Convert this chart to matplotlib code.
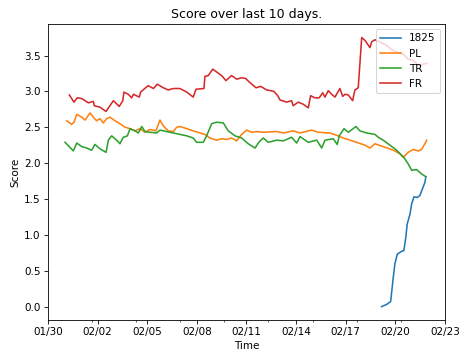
#!/usr/bin/env python
# coding: utf-8

import numpy as np
import matplotlib
matplotlib.use("Agg")
from matplotlib import pyplot as plt
import matplotlib.dates as mdates
from matplotlib.ticker import FixedLocator


# start of the time axis, offsets below are in days from here
t0 = np.datetime64("2019-01-30T00:00")

# 1825
d_1825 = [20.17, 20.48, 20.72, 20.88, 20.98, 21.12, 21.38, 21.52, 21.64, 21.72,
          21.89, 21.99, 22.13, 22.33, 22.49, 22.59, 22.79, 22.85]
v_1825 = [0.0, 0.03, 0.07, 0.41, 0.60, 0.73, 0.77, 0.78, 0.97, 1.15,
          1.29, 1.43, 1.53, 1.52, 1.55, 1.61, 1.73, 1.81]

# PL
d_pl = [1.13, 1.43, 1.57, 1.74, 2.04, 2.24, 2.54, 2.74, 2.94, 3.14, 3.34, 3.55,
        3.75, 4.05, 4.35, 4.66, 4.96, 5.26, 5.56, 5.86, 6.17, 6.53, 6.77, 6.97,
        7.27, 7.58, 7.78, 7.98, 8.39, 8.78, 9.19, 9.49, 9.79, 10.2, 10.5, 10.8,
        11.1, 11.41, 11.71, 12.01, 12.32, 12.62, 13.02, 13.83, 14.23, 14.83,
        15.24, 15.94, 16.34, 17.05, 17.55, 17.85, 18.26, 18.66, 19.17, 19.47,
        19.77, 20.27, 20.88, 21.28, 21.48, 21.78, 22.09, 22.39, 22.59, 22.79, 22.9]
v_pl = [2.59, 2.54, 2.57, 2.68, 2.64, 2.60, 2.70, 2.64, 2.59, 2.62, 2.56, 2.62,
        2.64, 2.59, 2.55, 2.50, 2.48, 2.45, 2.48, 2.43, 2.47, 2.45, 2.60, 2.52,
        2.45, 2.44, 2.50, 2.51, 2.48, 2.45, 2.42, 2.40, 2.35, 2.32, 2.34, 2.33,
        2.35, 2.31, 2.40, 2.46, 2.43, 2.44, 2.43, 2.44, 2.42, 2.45,
        2.42, 2.46, 2.43, 2.42, 2.38, 2.35, 2.32, 2.29, 2.25, 2.21,
        2.27, 2.23, 2.18, 2.13, 2.08, 2.15, 2.19, 2.17, 2.19, 2.27, 2.32]

# TR
d_tr = [1.03, 1.53, 1.74, 2.04, 2.34, 2.64, 2.84, 3.14, 3.51, 3.65, 3.85, 4.15,
        4.35, 4.55, 4.8, 4.96, 5.26, 5.46, 5.67, 5.86, 6.17, 6.57, 6.77, 7.18,
        7.58, 7.98, 8.39, 8.78, 8.99, 9.39, 9.59, 9.9, 10.2, 10.6, 10.9, 11.31,
        11.71, 12.11, 12.52, 12.78, 13.02, 13.32, 13.83, 14.23, 14.73, 15.04,
        15.24, 15.74, 16.25, 16.55, 16.75, 17.25, 17.49, 17.61, 17.9, 18.16,
        18.62, 18.86, 19.27, 19.77, 19.97, 20.27, 20.68, 21.08, 21.52, 21.78,
        21.99, 22.29, 22.59, 22.85]
v_tr = [2.29, 2.17, 2.28, 2.23, 2.21, 2.18, 2.26, 2.20, 2.15, 2.32, 2.38, 2.32,
        2.27, 2.36, 2.38, 2.48, 2.45, 2.42, 2.51, 2.44, 2.43, 2.42, 2.46, 2.44,
        2.42, 2.40, 2.38, 2.35, 2.29, 2.29, 2.38, 2.55, 2.57, 2.56, 2.45, 2.38,
        2.35, 2.27, 2.21, 2.30, 2.35, 2.29, 2.32, 2.31, 2.36, 2.28,
        2.37, 2.29, 2.32, 2.21, 2.32, 2.34, 2.26, 2.38, 2.48, 2.43,
        2.51, 2.45, 2.42, 2.40, 2.36, 2.32, 2.25, 2.18, 2.08, 1.99,
        1.90, 1.91, 1.85, 1.81]

# FR
d_fr = [1.29, 1.57, 1.77, 2.04, 2.44, 2.74, 2.80, 3.14, 3.51, 3.95, 4.31, 4.52,
        4.59, 4.85, 5.06, 5.16, 5.52, 5.60, 5.80, 6.06, 6.37, 6.61, 6.97, 7.27,
        7.58, 7.98, 8.39, 8.78, 8.95, 9.43, 9.49, 9.69, 9.84, 9.96, 10.2, 10.5,
        10.76, 11.1, 11.41, 11.71, 11.95, 12.17, 12.58, 12.86, 13.22, 13.46,
        13.66, 13.89, 14.03, 14.43, 14.73, 14.83, 15.13, 15.44, 15.74, 15.88,
        16.14, 16.4, 16.61, 16.75, 16.95, 17.15, 17.35, 17.65, 17.82, 17.96,
        18.16, 18.42, 18.56, 18.76, 18.97, 19.17, 19.47, 19.57, 19.77, 20.07,
        20.48, 20.78, 21.08, 21.48, 21.78, 22.09, 22.39, 22.69, 22.9]
v_fr = [2.95, 2.85, 2.91, 2.90, 2.84, 2.86, 2.80, 2.78, 2.72, 2.87, 2.79, 2.87,
        2.99, 2.96, 2.91, 2.96, 2.92, 2.99, 3.03, 3.08, 3.04, 3.10, 3.05, 3.02,
        3.04, 3.04, 2.99, 2.92, 3.03, 3.04, 3.21, 3.22, 3.27, 3.31, 3.27, 3.22,
        3.15, 3.22, 3.17, 3.19, 3.18, 3.13, 3.05, 3.07, 3.02, 3.01,
        3.00, 2.94, 2.88, 2.85, 2.87, 2.80, 2.85, 2.82, 2.77, 2.94,
        2.91, 2.91, 2.98, 2.92, 3.01, 2.96, 2.92, 3.04, 2.93, 2.96,
        2.95, 2.87, 3.02, 3.05, 3.75, 3.71, 3.61, 3.69, 3.72, 3.69,
        3.64, 3.58, 3.55, 3.52, 3.45, 3.43, 3.36, 3.38, 3.39]

labels = ["1825", "PL", "TR", "FR"]


def to_time(days):
    mins = np.round(np.asarray(days) * 24 * 60).astype("timedelta64[m]")
    return t0 + mins


fig = plt.figure(figsize=(6.24, 4.8), dpi=75)
ax = fig.add_axes([0.1026, 0.111, 0.848, 0.822])

for d, v, lab in zip([d_1825, d_pl, d_tr, d_fr], [v_1825, v_pl, v_tr, v_fr], labels):
    ax.plot(to_time(d), v, label=lab)

ax.set_xlim(to_time([0])[0], to_time([24])[0])

major = to_time(np.arange(0, 25, 3))
minor = to_time(np.arange(1, 9) * 8.0 / 3)
ax.xaxis.set_major_locator(FixedLocator(mdates.date2num(major)))
ax.xaxis.set_minor_locator(FixedLocator(mdates.date2num(minor)))
ax.xaxis.set_major_formatter(mdates.DateFormatter("%m/%d"))

ax.set_title("Score over last 10 days.")
ax.set_xlabel("Time")
ax.set_ylabel("Score")
ax.legend(loc="upper right")

fig.savefig("out.png", dpi=75)
